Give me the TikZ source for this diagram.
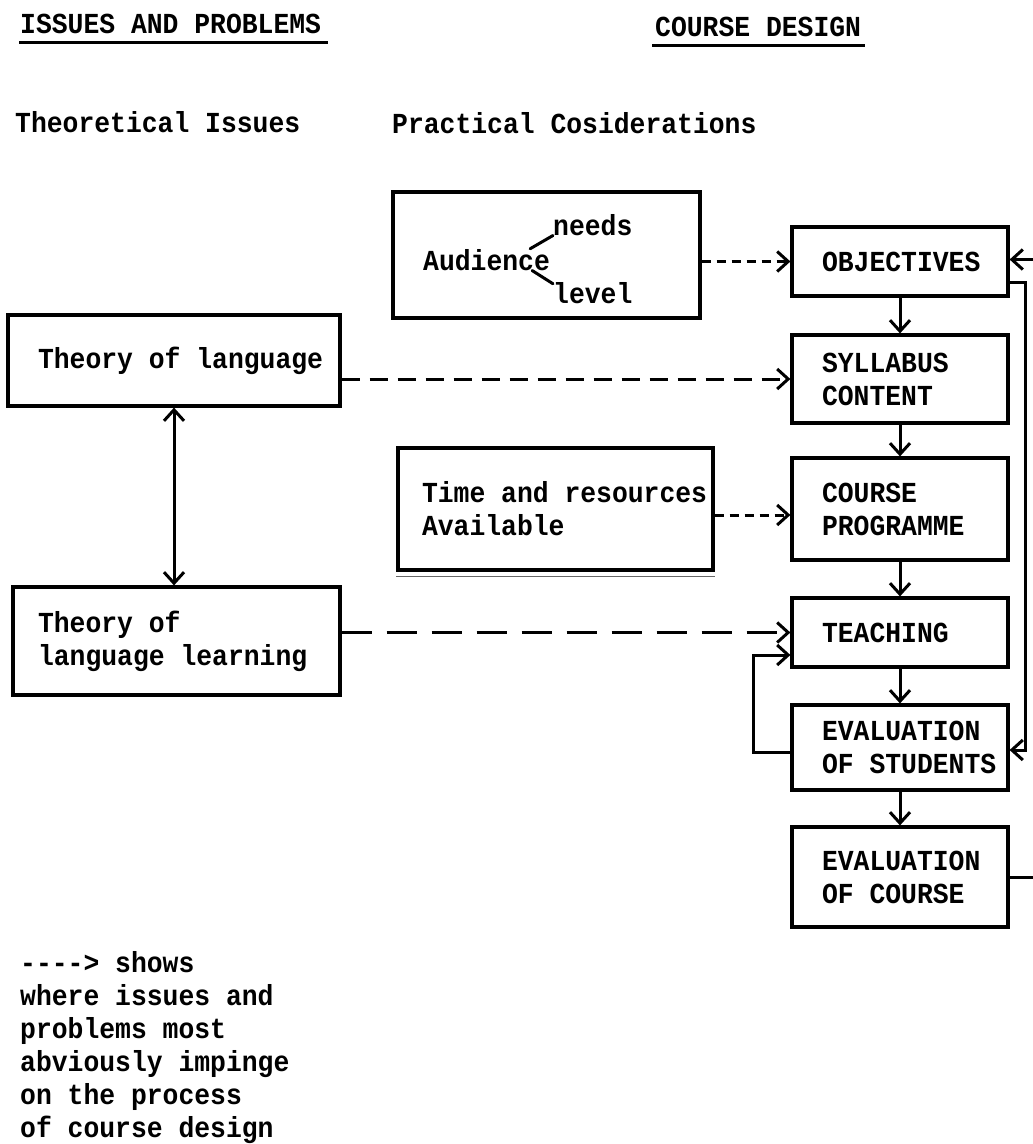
\documentclass[tikz,border=0pt]{standalone}
\usepackage{fontspec}
\setmainfont{Liberation Mono}[FakeStretch=0.91]
\usetikzlibrary{arrows.meta}
\tikzset{vb/.tip={Straight Barb[length=11pt,width=20pt]}}
\newcommand\fxl[2]{\makebox[#1][l]{#2}}
\begin{document}
\begin{tikzpicture}[x=1pt,y=-1pt,
  every node/.style={font=\bfseries\fontsize{29}{33}\selectfont},
  txt/.style={inner sep=0pt, anchor=base west},
  bx/.style={draw, line width=3.2pt, inner xsep=0pt, inner ysep=0pt, align=left},
  conn/.style={line width=3pt},
  arr/.style={conn, -vb},
  darr/.style={arr},
  uline/.style={line width=3pt}]
\path[use as bounding box, fill=white] (0,0) rectangle (1033,1144);

% headers
\node[txt] (h1) at (20,33) {ISSUES AND PROBLEMS};
\draw[uline] ([xshift=-1pt,yshift=-9pt]h1.base west) -- ([xshift=7pt,yshift=-9pt]h1.base east);
\node[txt] (h2) at (655,36) {COURSE DESIGN};
\draw[uline] ([xshift=-3pt,yshift=-9pt]h2.base west) -- ([xshift=4pt,yshift=-9pt]h2.base east);
\node[txt] (h3) at (15,132) {Theoretical Issues};
\node[txt] (h4) at (392,133) {Practical Cosiderations};

% audience box
\node[bx, minimum width=307pt, minimum height=126pt] (aud) at (546.5,255) {};
\node[txt] (audt) at (423,270) {Audience};
\node[txt] (needs) at (553,235) {needs};
\node[txt] (level) at (553,303) {level};
\draw[conn, line cap=round] ([xshift=-20pt]audt.north east) -- (needs.south west);
\draw[conn, line cap=round] ([xshift=-18pt]audt.south east) -- ([yshift=-2pt]level.north west);

% left boxes
\node[bx, minimum width=332pt, minimum height=91pt] (tol) at (174,360.5) {\fxl{272pt}{Theory of language}};
\node[bx, minimum width=327pt, minimum height=108pt] (tll) at (176.5,641) {\fxl{277pt}{Theory of}\\\fxl{277pt}{language learning}};
\node[bx, minimum width=315pt, minimum height=122pt] (tar) at (555.5,509) {\fxl{267pt}{Time and resources}\\\fxl{267pt}{Available}};
\draw[line width=1.4pt, black!60] ([yshift=-5pt]tar.south west) -- ([yshift=-5pt]tar.south east);

% right column
\node[bx, minimum width=216pt, minimum height=69pt] (obj) at (900,261.5) {\fxl{156pt}{OBJECTIVES}};
\node[bx, minimum width=216pt, minimum height=88pt] (syl) at (900,379) {\fxl{156pt}{SYLLABUS}\\\fxl{156pt}{CONTENT}};
\node[bx, minimum width=216pt, minimum height=102pt] (prog) at (900,509) {\fxl{156pt}{COURSE}\\\fxl{156pt}{PROGRAMME}};
\node[bx, minimum width=216pt, minimum height=69pt] (teach) at (900,632.5) {\fxl{156pt}{TEACHING}};
\node[bx, minimum width=216pt, minimum height=85pt] (evs) at (900,747.5) {\fxl{156pt}{EVALUATION}\\\fxl{156pt}{OF STUDENTS}};
\node[bx, minimum width=216pt, minimum height=100pt] (evc) at (900,877) {\fxl{156pt}{EVALUATION}\\\fxl{156pt}{OF COURSE}};

\draw[arr] (obj) -- (syl);
\draw[arr] (syl) -- (prog);
\draw[arr] (prog) -- (teach);
\draw[arr] (teach) -- (evs);
\draw[arr] (evs) -- (evc);

% dashed impingement arrows
\draw[darr, dash pattern=on 9pt off 6pt] (aud.east |- obj.west) -- (obj.west);
\draw[darr, dash pattern=on 18pt off 10pt] (tol.east |- syl.west) -- (syl.west);
\draw[darr, dash pattern=on 9pt off 6pt] ([yshift=-6pt]tar.east) -- ([yshift=-6pt]prog.west);
\draw[darr, dash pattern=on 30pt off 15pt] (tll.east |- teach.west) -- (teach.west);

% theory link
\draw[conn, vb-vb] (tol.south) -- (tol.south |- tll.north);

% feedback loops
\draw[arr] ([yshift=-4.5pt]evs.west) -- ++(-37,0) |- ([yshift=-22.5pt]teach.west);
\draw[arr] ([yshift=-20.5pt]obj.east) -- ++(16,0) |- ([yshift=-2.5pt]evs.east);
\draw[arr] (evc.east) -- ++(28,0) |- ([yshift=2pt]obj.east);

% legend
\node[txt, align=left] (leg) at (20,1137) {{-}{-}{-}{-}> shows\\where issues and\\problems most\\abviously impinge\\on the process\\of course design};
\end{tikzpicture}
\end{document}
